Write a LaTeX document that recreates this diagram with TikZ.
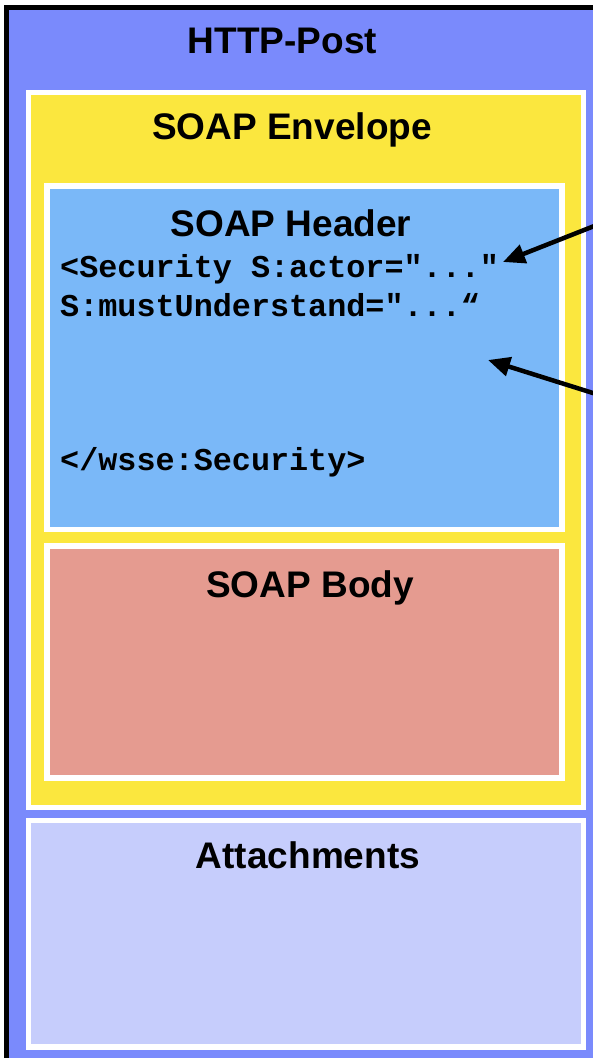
\documentclass[tikz,border=0pt]{standalone}
\usepackage{fontspec}
\setmainfont{Liberation Sans}
\newfontfamily\codefont{Liberation Mono}
\usetikzlibrary{arrows.meta}

\definecolor{httpblue}{RGB}{122,138,252}
\definecolor{envyellow}{RGB}{251,231,62}
\definecolor{hdrblue}{RGB}{122,184,248}
\definecolor{bodypink}{RGB}{229,155,144}
\definecolor{attlav}{RGB}{198,205,252}

\tikzset{
  layer/.style={draw=white, line width=5.5pt, inner sep=0pt, outer sep=0pt, anchor=north west},
  title/.style={anchor=base, inner sep=0pt, font=\fontsize{37}{44}\selectfont\bfseries},
  code/.style={anchor=base west, inner sep=0pt, font=\fontsize{31.8}{38}\selectfont\codefont\bfseries},
  pointer/.style={line width=4.5pt, -{Triangle[length=22pt,width=19pt]}}
}

\begin{document}
\begin{tikzpicture}[x=1pt,y=-1pt]
  \useasboundingbox (0,0) rectangle (592,1058);
  \fill[white] (-8,-8) rectangle (600,1066);

  % outer HTTP frame with its black top and left edge
  \fill[black] (4,5) rectangle (600,10);
  \fill[black] (4,5) rectangle (9,1066);
  \node[inner sep=0pt, outer sep=0pt, anchor=north west, fill=httpblue,
        minimum width=591pt, minimum height=1056pt] (http) at (9,10) {};
  \node[title] (httplbl) at (282.5,53) {HTTP-Post};

  % SOAP envelope
  \node[layer, fill=envyellow, minimum width=555pt, minimum height=715pt] (env) at (28.5,92.5) {};
  \node[title] (envlbl) at (292,139) {SOAP Envelope};

  % SOAP header
  \node[layer, fill=hdrblue, minimum width=515pt, minimum height=343.5pt] (hdr) at (47,186) {};
  \node[title] (hdrlbl) at (291,236) {SOAP Header};
  \node[code] (l1) at (60,277) {<Security S:actor="..."};
  \node[code] (l2) at (60,316) {S:mustUnderstand="...“};
  \node[code] (l3) at (60,470) {</wsse:Security>};

  % SOAP body
  \node[layer, fill=bodypink, minimum width=515pt, minimum height=232pt] (body) at (47,546) {};
  \node[title] (bodylbl) at (310,597) {SOAP Body};

  % attachments
  \node[layer, fill=attlav, minimum width=555pt, minimum height=226.5pt] (att) at (28.5,820.5) {};
  \node[title] (attlbl) at (308,868) {Attachments};

  % pointers coming in from the right, past the frame edge
  \coordinate (src1) at (612,219);
  \coordinate (tip1) at (503,262);
  \coordinate (src2) at (612,399);
  \coordinate (tip2) at (488,360);
  \draw[pointer] (src1) -- (tip1);
  \draw[pointer] (src2) -- (tip2);
\end{tikzpicture}
\end{document}
